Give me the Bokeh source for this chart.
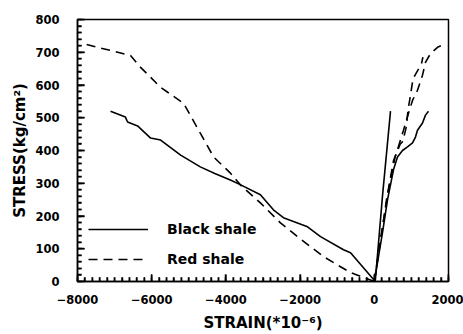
from bokeh.plotting import figure
from bokeh.models import Range1d, SingleIntervalTicker, Legend, LegendItem, ColumnDataSource
from bokeh.embed import file_html
from bokeh.resources import INLINE

# Black shale - lateral strain (negative)
black_lat_x = [0, -20, -640, -830, -1450, -1800, -2450, -2720, -3070, -3600, -3880,
               -4300, -4690, -5220, -5760, -6030, -6380, -6650, -6710, -7110]
black_lat_y = [0, 6, 88, 97, 137, 167, 195, 219, 265, 295, 310,
               330, 350, 386, 432, 438, 475, 487, 502, 520]
# Black shale - axial strain (two gauges)
black_ax1_x = [0, 30, 220, 437]
black_ax1_y = [0, 6, 260, 520]
black_ax2_x = [0, 86, 221, 356, 517, 625, 760, 895, 1030, 1110, 1164, 1299, 1380, 1461]
black_ax2_y = [0, 58, 149, 249, 341, 380, 400, 411, 423, 441, 462, 484, 508, 520]

# Red shale - lateral strain
red_lat_x = [0, -640, -1370, -2070, -2530, -3070, -3610, -3880, -3960, -4330, -4690,
             -5140, -5760, -6300, -6570, -7110, -7460, -7870]
red_lat_y = [0, 27, 76, 137, 179, 240, 295, 331, 340, 380, 453,
             544, 593, 654, 690, 706, 715, 727]
# Red shale - axial strain (two gauges)
red_ax1_x = [0, 167, 383, 560, 706, 787, 922, 1030, 1164, 1299, 1380, 1515, 1704, 1919]
red_ax1_y = [0, 128, 280, 380, 432, 462, 514, 553, 584, 630, 669, 696, 715, 727]
red_ax2_x = [0, 150, 330, 520, 700, 770, 868, 908, 976, 1043, 1272, 1310]
red_ax2_y = [0, 110, 250, 370, 420, 428, 475, 523, 569, 619, 665, 685]

x_label = "STRAIN(*10\u207b\u2076)"
y_label = "STRESS(kg/cm\u00b2)"

FONT = "DejaVu Sans"
X_MIN, X_MAX, Y_MIN, Y_MAX = -8000, 2000, 0, 800
X_MAJOR, X_MINOR = 2000, 200
Y_MAJOR, Y_MINOR = 100, 20

p = figure(width=463, height=334, output_backend="svg", toolbar_location=None,
           x_range=Range1d(X_MIN, X_MAX), y_range=Range1d(Y_MIN, Y_MAX))
p.min_border_left = 77
p.min_border_right = 15
p.min_border_top = 19
p.min_border_bottom = 52
p.background_fill_color = "white"
p.border_fill_color = "white"
p.outline_line_color = "black"
p.outline_line_width = 1.5
p.xgrid.visible = False
p.ygrid.visible = False

p.xaxis.ticker = SingleIntervalTicker(interval=X_MAJOR, num_minor_ticks=10)
p.yaxis.ticker = SingleIntervalTicker(interval=Y_MAJOR, num_minor_ticks=5)
for ax in (p.xaxis, p.yaxis):
    ax.axis_line_color = "black"
    ax.axis_line_width = 1.5
    ax.major_tick_in = 7
    ax.major_tick_out = 0
    ax.minor_tick_in = 4
    ax.minor_tick_out = 0
    ax.major_tick_line_color = "black"
    ax.minor_tick_line_color = "black"
    ax.major_tick_line_width = 1.5
    ax.minor_tick_line_width = 1.5
    ax.major_label_text_font = FONT
    ax.major_label_text_font_style = "bold"
    ax.major_label_text_font_size = "11.5px"
    ax.major_label_text_color = "black"
    ax.axis_label_text_font = FONT
    ax.axis_label_text_font_style = "bold"
    ax.axis_label_text_font_size = "15px"
    ax.axis_label_text_color = "black"

p.xaxis.axis_label = x_label
p.yaxis.axis_label = y_label
p.xaxis.major_label_standoff = 13
p.yaxis.major_label_standoff = 18
p.xaxis.axis_label_standoff = 7
p.yaxis.axis_label_standoff = 3

# inward-pointing tick marks along the bottom and left frame edges
x_span = float(X_MAX - X_MIN)
y_span = float(Y_MAX - Y_MIN)
xt = [float(v) for v in range(X_MIN, X_MAX + 1, X_MINOR)]
xt_top = [Y_MIN + (y_span * 0.027 if int(v) % X_MAJOR == 0 else y_span * 0.016) for v in xt]
xsrc = ColumnDataSource(dict(x=xt, y0=[float(Y_MIN)] * len(xt), y1=xt_top))
p.segment(x0="x", y0="y0", x1="x", y1="y1", source=xsrc,
          line_color="black", line_width=1.5)
yt = [float(v) for v in range(Y_MIN, Y_MAX + 1, Y_MINOR)]
yt_end = [X_MIN + (x_span * 0.019 if int(v) % Y_MAJOR == 0 else x_span * 0.011) for v in yt]
ysrc = ColumnDataSource(dict(y=yt, x0=[float(X_MIN)] * len(yt), x1=yt_end))
p.segment(x0="x0", y0="y", x1="x1", y1="y", source=ysrc,
          line_color="black", line_width=1.5)

lw = 1.6
dash = "9 6"
r_black = p.line(black_lat_x, black_lat_y, line_color="black", line_width=lw)
p.line(black_ax1_x, black_ax1_y, line_color="black", line_width=lw)
p.line(black_ax2_x, black_ax2_y, line_color="black", line_width=lw)
r_red = p.line(red_lat_x, red_lat_y, line_color="black", line_width=lw, line_dash=dash)
p.line(red_ax1_x, red_ax1_y, line_color="black", line_width=lw, line_dash=dash)
p.line(red_ax2_x, red_ax2_y, line_color="black", line_width=lw, line_dash=dash)

legend = Legend(items=[LegendItem(label="Black shale", renderers=[r_black]),
                       LegendItem(label="Red shale", renderers=[r_red])],
                location=(11, 12))
legend.border_line_color = None
legend.background_fill_alpha = 0
legend.padding = 0
legend.margin = 0
legend.spacing = 10
legend.glyph_width = 60
legend.glyph_height = 20
legend.label_height = 20
legend.label_standoff = 19
legend.label_text_font = FONT
legend.label_text_font_style = "bold"
legend.label_text_font_size = "14px"
legend.label_text_color = "black"
p.add_layout(legend)

open("out.html", "w").write(file_html(p, INLINE))
